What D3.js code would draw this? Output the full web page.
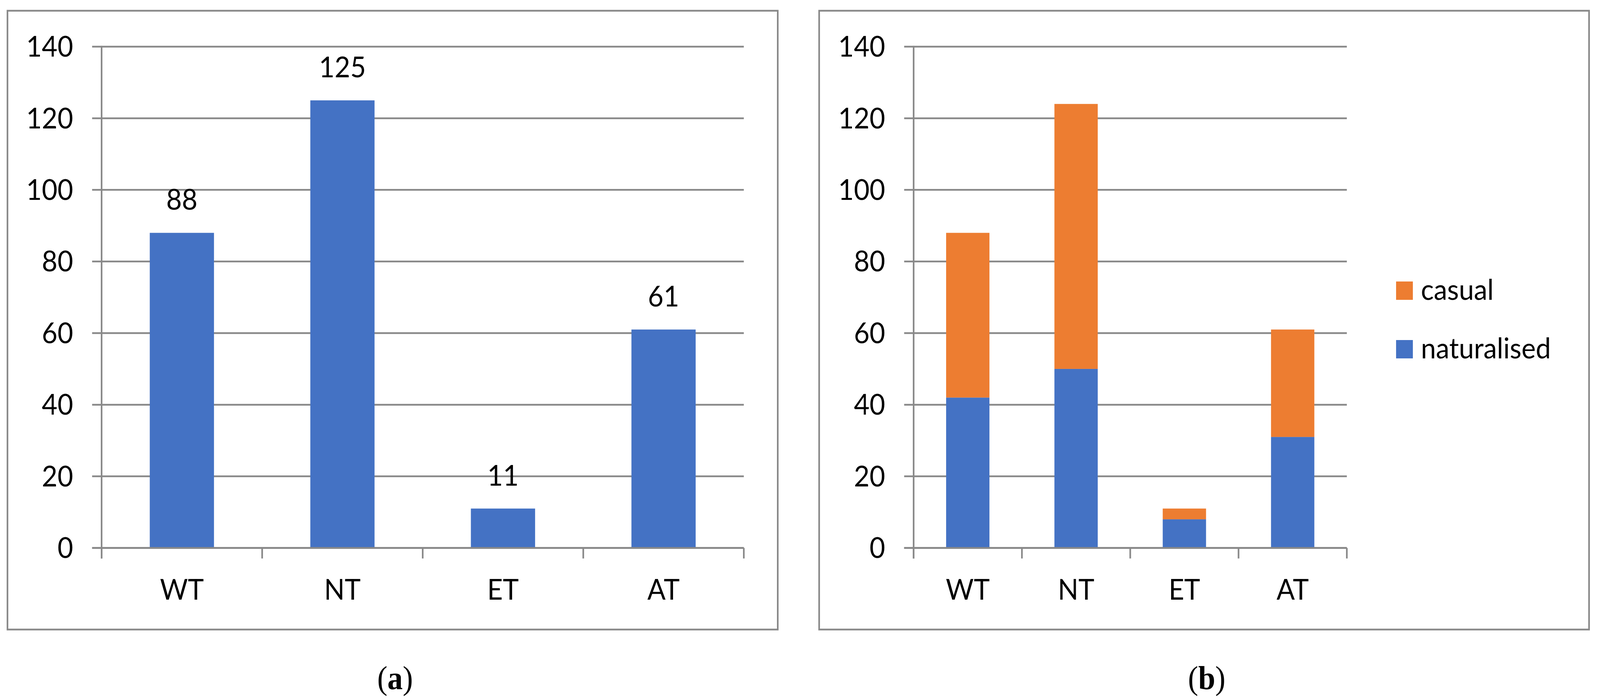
<!DOCTYPE html>
<html>
<head>
<meta charset="utf-8">
<script src="https://cdn.jsdelivr.net/npm/d3@7"></script>
<style>
  html, body { margin: 0; padding: 0; background: #fff; overflow: hidden; width: 100%; height: 100%; }
  svg { display: block; width: 100vw; height: 100vh; }
</style>
</head>
<body>
<svg id="chart" viewBox="0 0 4386 1793" preserveAspectRatio="none"></svg>
<script>
// ---- data ----
const categories = ["WT", "NT", "ET", "AT"];
const totals = [88, 125, 11, 61];
const naturalised = [42, 50, 8, 31];
const casual = [46, 74, 3, 30];
const yTicks = [0, 20, 40, 60, 80, 100, 120, 140];
const seriesNames = ["casual", "naturalised"];
const panelLabels = ["a", "b"];

// ---- styles ----
const BLUE = "#4472C4", ORANGE = "#ED7D31", GRID = "#898989";
const FONT = "Lato, 'Open Sans', sans-serif";
const FS = 74;

const svg = d3.select("#chart");
svg.append("rect").attr("width", 4386).attr("height", 1793).attr("fill", "#fff");

const y = d3.scaleLinear().domain([0, 140]).range([1403.5, 119.5]);

const panels = [
  { frame: [20.5, 27.5, 2132, 1612.5], x0: 278.5, x1: 2039, labelX: 1083, stacked: false },
  { frame: [2245.5, 27.5, 4356, 1612.5], x0: 2504.5, x1: 3692, labelX: 3308, stacked: true }
];

panels.forEach((p, pi) => {
  const g = svg.append("g");
  // frame
  g.append("rect")
    .attr("x", p.frame[0]).attr("y", p.frame[1])
    .attr("width", p.frame[2] - p.frame[0]).attr("height", p.frame[3] - p.frame[1])
    .attr("fill", "none").attr("stroke", GRID).attr("stroke-width", 4.5);

  const x = d3.scaleBand().domain(categories).range([p.x0, p.x1]).paddingInner(0).paddingOuter(0);
  const bw = x.bandwidth() * 0.4;

  // gridlines
  g.selectAll(".grid").data(yTicks).join("line")
    .attr("x1", p.x0 - 26).attr("x2", p.x1)
    .attr("y1", d => y(d)).attr("y2", d => y(d))
    .attr("stroke", GRID).attr("stroke-width", 4.5);

  // y axis labels via d3 axis
  const yAxis = d3.axisLeft(y).tickValues(yTicks).tickSize(0).tickPadding(0);
  const ya = g.append("g").attr("transform", `translate(${p.x0 - 78},0)`).call(yAxis);
  ya.select(".domain").remove();
  ya.selectAll("text").attr("font-family", FONT).attr("font-size", FS).attr("fill", "#000").attr("dy", "0.34em");

  // bars
  if (!p.stacked) {
    g.selectAll(".bar").data(categories).join("rect")
      .attr("x", d => x(d) + (x.bandwidth() - bw) / 2)
      .attr("width", bw)
      .attr("y", (d, i) => y(totals[i]))
      .attr("height", (d, i) => y(0) - y(totals[i]))
      .attr("fill", BLUE);
    g.selectAll(".lbl").data(categories).join("text")
      .attr("x", d => x(d) + x.bandwidth() / 2)
      .attr("y", (d, i) => y(totals[i]) - 59)
      .attr("text-anchor", "middle")
      .attr("font-family", FONT).attr("font-size", FS).attr("fill", "#000")
      .text((d, i) => totals[i]);
  } else {
    const rows = categories.map((c, i) => ({ cat: c, naturalised: naturalised[i], casual: casual[i] }));
    const stack = d3.stack().keys(["naturalised", "casual"])(rows);
    const colors = { naturalised: BLUE, casual: ORANGE };
    stack.forEach(s => {
      g.selectAll(".s-" + s.key).data(s).join("rect")
        .attr("x", d => x(d.data.cat) + (x.bandwidth() - bw) / 2)
        .attr("width", bw)
        .attr("y", d => y(d[1]))
        .attr("height", d => y(d[0]) - y(d[1]))
        .attr("fill", colors[s.key]);
    });
    // legend
    const legY = [721, 871];
    seriesNames.forEach((name, i) => {
      g.append("rect").attr("x", 3827).attr("y", legY[i]).attr("width", 46).attr("height", 47)
        .attr("fill", colors[name]);
      g.append("text").attr("x", 3895).attr("y", legY[i] + 47)
        .attr("font-family", FONT).attr("font-size", FS).attr("fill", "#000")
        .text(name);
    });
  }

  // x axis line
  g.append("line").attr("x1", p.x0 - 26).attr("x2", p.x1)
    .attr("y1", y(0)).attr("y2", y(0)).attr("stroke", GRID).attr("stroke-width", 4.5);
  // y axis line
  g.append("line").attr("x1", p.x0).attr("x2", p.x0)
    .attr("y1", y(140) - 2).attr("y2", y(0) + 27).attr("stroke", GRID).attr("stroke-width", 4.5);
  // category ticks
  const bounds = categories.map(c => x(c)).concat([p.x1]);
  g.selectAll(".tick-x").data(bounds).join("line")
    .attr("x1", d => d).attr("x2", d => d)
    .attr("y1", y(0)).attr("y2", y(0) + 27)
    .attr("stroke", GRID).attr("stroke-width", 4.5);
  // category labels
  g.selectAll(".cat").data(categories).join("text")
    .attr("x", d => x(d) + x.bandwidth() / 2)
    .attr("y", 1536)
    .attr("text-anchor", "middle")
    .attr("font-family", FONT).attr("font-size", FS).attr("fill", "#000")
    .text(d => d);

  // panel label
  const t = svg.append("text").attr("x", p.labelX).attr("y", 1765)
    .attr("text-anchor", "middle")
    .attr("font-family", "'Liberation Serif', 'Times New Roman', serif").attr("font-size", 84).attr("fill", "#000");
  t.append("tspan").text("(");
  t.append("tspan").attr("font-weight", "bold").text(panelLabels[pi]);
  t.append("tspan").text(")");
});
</script>
</body>
</html>
